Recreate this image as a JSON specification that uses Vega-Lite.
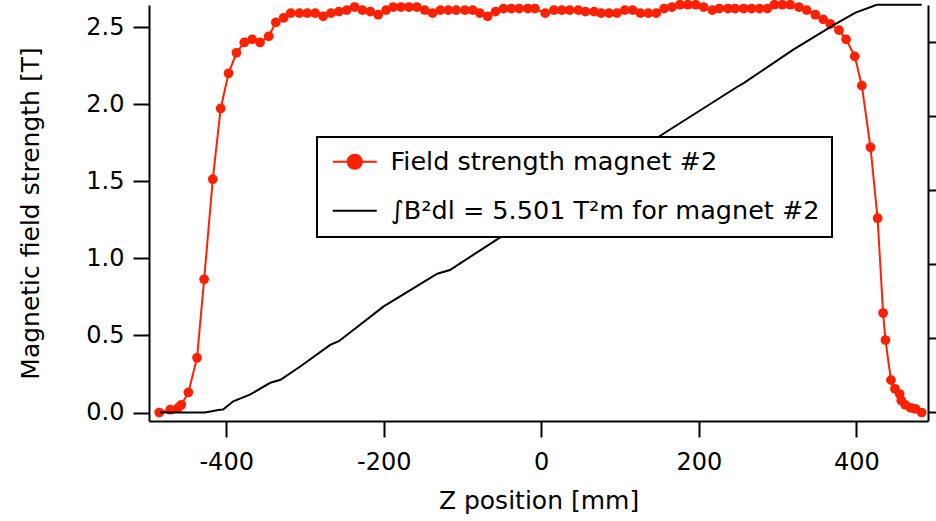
{
  "$schema": "https://vega.github.io/schema/vega-lite/v6.json",
  "width": 779,
  "height": 416,
  "autosize": {"type": "none"},
  "padding": {"left": 149, "top": 5, "right": 8, "bottom": 100},
  "background": "white",
  "config": {
    "view": {"stroke": null},
    "font": "DejaVu Sans",
    "axis": {
      "grid": false,
      "domainColor": "black",
      "domainWidth": 2,
      "tickColor": "black",
      "tickWidth": 2,
      "tickSize": 16,
      "labelFontSize": 24,
      "labelColor": "black",
      "labelFont": "DejaVu Sans",
      "titleFontSize": 25,
      "titleFontWeight": "normal",
      "titleColor": "black",
      "titleFont": "DejaVu Sans"
    }
  },
  "datasets": {
    "field": [
      {"s": "a", "z": -485, "B": 0.0}, {"s": "a", "z": -471, "B": 0.018}, {"s": "a", "z": -461, "B": 0.03}, {"s": "a", "z": -457, "B": 0.05},
      {"s": "a", "z": -448, "B": 0.13}, {"s": "a", "z": -437, "B": 0.355}, {"s": "a", "z": -428, "B": 0.864}, {"s": "a", "z": -417, "B": 1.513},
      {"s": "a", "z": -407, "B": 1.972}, {"s": "a", "z": -397, "B": 2.2}, {"s": "a", "z": -387, "B": 2.333}, {"s": "a", "z": -377, "B": 2.4},
      {"s": "a", "z": -367, "B": 2.42}, {"s": "a", "z": -357, "B": 2.4}, {"s": "a", "z": -346, "B": 2.44}, {"s": "a", "z": -337, "B": 2.53},
      {"s": "a", "z": -327, "B": 2.56}, {"s": "a", "z": -318, "B": 2.59}, {"s": "a", "z": -307, "B": 2.59}, {"s": "a", "z": -297, "B": 2.59},
      {"s": "a", "z": -287, "B": 2.59}, {"s": "a", "z": -277, "B": 2.57}, {"s": "a", "z": -267, "B": 2.59}, {"s": "a", "z": -257, "B": 2.6},
      {"s": "a", "z": -247, "B": 2.61}, {"s": "a", "z": -237, "B": 2.63}, {"s": "a", "z": -227, "B": 2.61}, {"s": "a", "z": -217, "B": 2.6},
      {"s": "a", "z": -207, "B": 2.58}, {"s": "a", "z": -197, "B": 2.61}, {"s": "a", "z": -188, "B": 2.63}, {"s": "a", "z": -178, "B": 2.63},
      {"s": "a", "z": -168, "B": 2.63}, {"s": "a", "z": -158, "B": 2.63}, {"s": "a", "z": -148, "B": 2.61}, {"s": "a", "z": -138, "B": 2.59},
      {"s": "a", "z": -128, "B": 2.61}, {"s": "a", "z": -118, "B": 2.61}, {"s": "a", "z": -108, "B": 2.61}, {"s": "a", "z": -97, "B": 2.61},
      {"s": "a", "z": -87, "B": 2.61}, {"s": "a", "z": -78, "B": 2.59}, {"s": "a", "z": -68, "B": 2.57}, {"s": "a", "z": -58, "B": 2.6},
      {"s": "a", "z": -48, "B": 2.62}, {"s": "a", "z": -38, "B": 2.62}, {"s": "a", "z": -28, "B": 2.62}, {"s": "a", "z": -17, "B": 2.62},
      {"s": "a", "z": -8, "B": 2.62}, {"s": "a", "z": 5, "B": 2.59}, {"s": "a", "z": 16, "B": 2.61}, {"s": "a", "z": 26, "B": 2.61},
      {"s": "a", "z": 36, "B": 2.61}, {"s": "a", "z": 47, "B": 2.61}, {"s": "a", "z": 56, "B": 2.6}, {"s": "a", "z": 67, "B": 2.6},
      {"s": "a", "z": 76, "B": 2.59}, {"s": "a", "z": 86, "B": 2.59}, {"s": "a", "z": 96, "B": 2.59}, {"s": "a", "z": 106, "B": 2.61},
      {"s": "a", "z": 116, "B": 2.61}, {"s": "a", "z": 126, "B": 2.59}, {"s": "a", "z": 136, "B": 2.59}, {"s": "a", "z": 146, "B": 2.59},
      {"s": "a", "z": 156, "B": 2.62}, {"s": "a", "z": 166, "B": 2.63}, {"s": "a", "z": 176, "B": 2.645}, {"s": "a", "z": 186, "B": 2.645},
      {"s": "a", "z": 196, "B": 2.645}, {"s": "a", "z": 206, "B": 2.63}, {"s": "a", "z": 217, "B": 2.61}, {"s": "a", "z": 226, "B": 2.62},
      {"s": "a", "z": 237, "B": 2.62}, {"s": "a", "z": 246, "B": 2.62}, {"s": "a", "z": 257, "B": 2.62}, {"s": "a", "z": 267, "B": 2.62},
      {"s": "a", "z": 277, "B": 2.62}, {"s": "a", "z": 287, "B": 2.62}, {"s": "a", "z": 296, "B": 2.645}, {"s": "a", "z": 306, "B": 2.645},
      {"s": "a", "z": 316, "B": 2.645}, {"s": "a", "z": 327, "B": 2.63}, {"s": "a", "z": 337, "B": 2.61}, {"s": "a", "z": 348, "B": 2.58},
      {"s": "a", "z": 358, "B": 2.55}, {"s": "a", "z": 367, "B": 2.52}, {"s": "a", "z": 378, "B": 2.48}, {"s": "a", "z": 387, "B": 2.42},
      {"s": "a", "z": 398, "B": 2.31}, {"s": "a", "z": 407, "B": 2.12}, {"s": "a", "z": 418, "B": 1.72}, {"s": "a", "z": 427, "B": 1.26},
      {"s": "a", "z": 434, "B": 0.645}, {"s": "a", "z": 437, "B": 0.47}, {"s": "a", "z": 444, "B": 0.21}, {"s": "a", "z": 449, "B": 0.154},
      {"s": "a", "z": 455, "B": 0.12}, {"s": "a", "z": 457, "B": 0.078}, {"s": "a", "z": 462, "B": 0.05}, {"s": "a", "z": 469, "B": 0.03},
      {"s": "a", "z": 475, "B": 0.024}, {"s": "a", "z": 483, "B": 0.0}
    ],
    "integral": [
      {"s": "b", "z": -484, "I": 0.0}, {"s": "b", "z": -427, "I": 0.0}, {"s": "b", "z": -408, "I": 0.036}, {"s": "b", "z": -404, "I": 0.04},
      {"s": "b", "z": -391, "I": 0.15}, {"s": "b", "z": -370, "I": 0.24}, {"s": "b", "z": -344, "I": 0.4}, {"s": "b", "z": -331, "I": 0.44},
      {"s": "b", "z": -306, "I": 0.62}, {"s": "b", "z": -268, "I": 0.91}, {"s": "b", "z": -257, "I": 0.96}, {"s": "b", "z": -200, "I": 1.43},
      {"s": "b", "z": -132, "I": 1.87}, {"s": "b", "z": -116, "I": 1.92}, {"s": "b", "z": -58, "I": 2.32}, {"s": "b", "z": 160, "I": 3.79},
      {"s": "b", "z": 249, "I": 4.39}, {"s": "b", "z": 257, "I": 4.44}, {"s": "b", "z": 320, "I": 4.89}, {"s": "b", "z": 371, "I": 5.22},
      {"s": "b", "z": 399, "I": 5.39}, {"s": "b", "z": 426, "I": 5.495}, {"s": "b", "z": 483, "I": 5.495}
    ]
  },
  "layer": [
    {
      "data": {"name": "field"},
      "encoding": {
        "x": {
          "field": "z", "type": "quantitative",
          "scale": {"domain": [-498, 491], "nice": false, "zero": false},
          "axis": {"values": [-400, -200, 0, 200, 400], "title": "Z position [mm]", "labelPadding": 13, "titlePadding": 14, "labelExpr": "'' + datum.value"}
        },
        "y": {
          "field": "B", "type": "quantitative",
          "scale": {"domain": [-0.055, 2.643], "nice": false, "zero": false},
          "axis": {"values": [0, 0.5, 1, 1.5, 2, 2.5], "format": ".1f", "title": "Magnetic field strength [T]", "labelPadding": 9, "titlePadding": 42}
        },
        "color": {
          "field": "s", "type": "nominal",
          "scale": {"domain": ["a", "b"], "range": ["#ff2000", "black"]},
          "legend": {
            "orient": "none", "legendX": 168, "legendY": 132, "title": null,
            "padding": 12, "labelFontSize": 25.5, "labelFont": "DejaVu Sans", "labelColor": "black",
            "symbolSize": 400, "rowPadding": 22, "labelOffset": 23, "symbolOffset": 13, "labelLimit": 0,
            "labelExpr": "datum.value === 'a' ? 'Field strength magnet #2' : '∫B²dl = 5.501 T²m for magnet #2'",
            "encode": {
              "legend": {
                "update": {
                  "stroke": {"value": "black"},
                  "strokeWidth": {"value": 2},
                  "fill": {"value": "white"},
                  "cornerRadius": {"value": 0}
                }
              },
              "symbols": {
                "update": {
                  "shape": {"signal": "datum.value === 'a' ? 'M-2.2,0L2.2,0M-0.7,0A0.7,0.7,0,1,0,0.7,0A0.7,0.7,0,1,0,-0.7,0Z' : 'M-2.2,0L2.2,0'"},
                  "fill": {"signal": "datum.value === 'a' ? '#ff2000' : 'transparent'"},
                  "stroke": {"signal": "datum.value === 'a' ? '#ff2000' : 'black'"},
                  "strokeWidth": {"value": 2},
                  "opacity": {"value": 1}
                }
              }
            }
          }
        }
      },
      "layer": [
        {"mark": {"type": "line", "strokeWidth": 2}},
        {"mark": {"type": "point", "filled": true, "size": 95, "opacity": 1}}
      ]
    },
    {
      "data": {"name": "integral"},
      "mark": {"type": "line", "strokeWidth": 2},
      "encoding": {
        "x": {"field": "z", "type": "quantitative"},
        "y": {
          "field": "I", "type": "quantitative",
          "scale": {"domain": [-0.115, 5.492], "nice": false, "zero": false},
          "axis": {"orient": "right", "values": [0, 1, 2, 3, 4, 5], "labels": false, "title": null, "tickSize": 10}
        },
        "color": {"field": "s", "type": "nominal"}
      }
    }
  ],
  "resolve": {"scale": {"y": "independent"}}
}
